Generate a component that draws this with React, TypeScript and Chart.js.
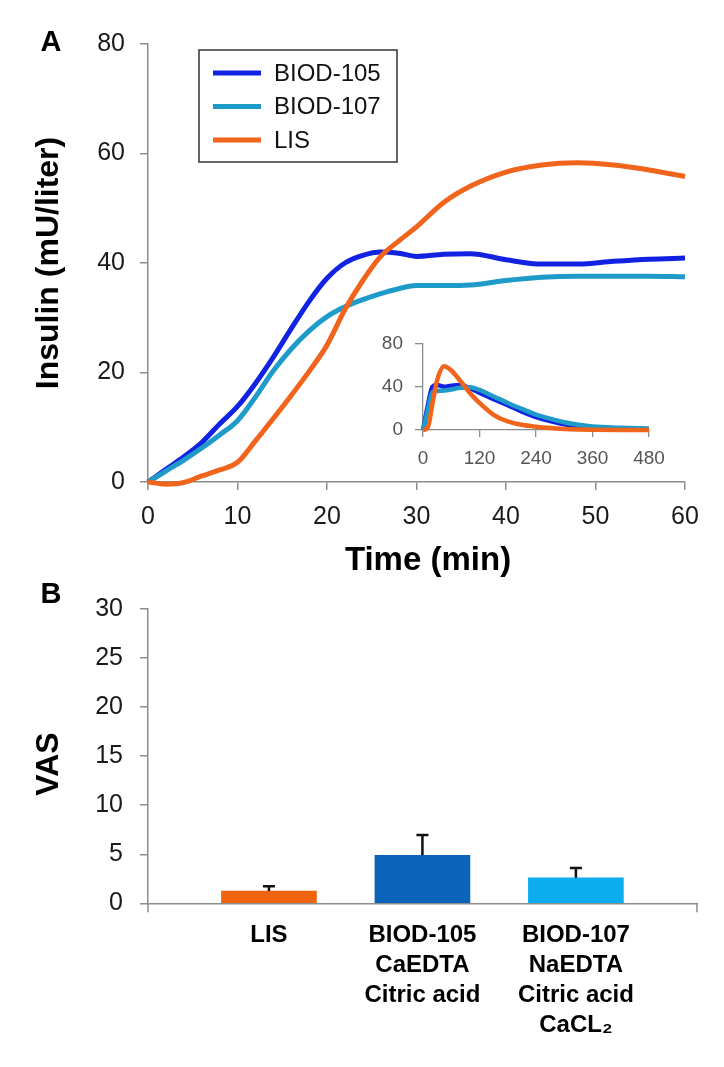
import React, { useEffect, useRef } from 'react';
import { Chart, registerables } from 'chart.js';

Chart.register(...registerables);

const FONT = '"Liberation Sans", Arial, Helvetica, sans-serif';
const AXIS_GRAY = '#8c8c8c';

// ---------- Panel A: main insulin curves (0-60 min) ----------
const timeMain = [0, 2, 4, 6, 8, 10, 12, 14, 16, 18, 20, 22, 24, 26, 28, 30, 33, 36, 40, 44, 48, 52, 56, 60];
const biod105Main = [0, 2.3, 4.6, 7.2, 10.6, 13.8, 18.0, 22.8, 28.0, 33.0, 37.2, 40.0, 41.4, 42.0, 41.8, 41.2, 41.6, 41.7, 40.6, 39.8, 39.8, 40.3, 40.7, 40.9];
const biod107Main = [0, 2.0, 4.0, 6.2, 8.6, 11.2, 15.5, 20.3, 24.3, 27.6, 30.2, 32.0, 33.3, 34.4, 35.3, 35.9, 35.9, 36.0, 36.8, 37.4, 37.6, 37.6, 37.6, 37.5];
const lisMain = [0, -0.4, -0.1, 1.1, 2.2, 3.6, 7.5, 11.6, 15.8, 20.2, 25.0, 31.5, 36.8, 41.2, 44.0, 46.6, 51.0, 54.0, 56.6, 57.9, 58.3, 57.9, 57.0, 55.8];

// ---------- Panel A inset: 0-480 min ----------
const timeInset = [0, 10, 20, 30, 45, 60, 80, 100, 120, 150, 180, 210, 240, 270, 300, 330, 360, 420, 480];
const biod105Inset = [0, 22, 40, 41.5, 40, 41, 41.5, 38.5, 34.5, 28.5, 23, 17, 12, 8.3, 5.2, 3.2, 1.9, 0.9, 0.5];
const biod107Inset = [0, 18, 35, 36, 36.5, 37.5, 39, 39.5, 37, 31, 25, 19.5, 14.3, 10.5, 7.2, 4.8, 3.2, 2, 1.4];
const lisInset = [0, 2, 24, 46, 59, 55, 45, 34, 25, 14, 8, 4.8, 3, 1.8, 1, 0.5, 0.2, 0, 0];

const seriesLabels = ['BIOD-105', 'BIOD-107', 'LIS'];
const seriesColors = ['#1222E2', '#1E9BC8', '#F0641C'];

// ---------- Panel B: VAS ----------
const vasCategories = [
  ['LIS'],
  ['BIOD-105', 'CaEDTA', 'Citric acid'],
  ['BIOD-107', 'NaEDTA', 'Citric acid', 'CaCL₂'],
];
const vasSlots = [1, 2, 3];
const vasMeans = [1.25, 4.9, 2.6];
const vasErrors = [0.5, 2.05, 1.0];
const vasColors = ['#F0640F', '#0B63BA', '#0BADEE'];

const toXY = (xs: number[], ys: number[]) => xs.map((x, i) => ({ x, y: ys[i] }));

// ---------- plugins ----------
const legendBoxPlugin = {
  id: 'legendBox',
  afterDatasetsDraw(chart: any, _args: any, opts: any) {
    if (!opts || !opts.display) return;
    const ctx = chart.ctx;
    const { x, y, width, height, rowHeight, firstRow, lineX, lineLen, textX } = opts;
    ctx.save();
    ctx.fillStyle = '#fff';
    ctx.fillRect(x, y, width, height);
    ctx.strokeStyle = opts.borderColor;
    ctx.lineWidth = opts.borderWidth;
    ctx.strokeRect(x, y, width, height);
    chart.data.datasets.forEach((ds: any, i: number) => {
      const cy = y + firstRow + i * rowHeight;
      ctx.strokeStyle = ds.borderColor;
      ctx.lineWidth = ds.borderWidth;
      ctx.beginPath();
      ctx.moveTo(x + lineX, cy);
      ctx.lineTo(x + lineX + lineLen, cy);
      ctx.stroke();
      ctx.fillStyle = opts.color;
      ctx.font = opts.font;
      ctx.textAlign = 'left';
      ctx.textBaseline = 'middle';
      ctx.fillText(ds.label, x + textX, cy + 1);
    });
    ctx.restore();
  },
};

// free-standing captions (panel letters, axis captions)
const captionsPlugin = {
  id: 'captions',
  afterDraw(chart: any, _args: any, opts: any) {
    if (!opts || !opts.items) return;
    const ctx = chart.ctx;
    opts.items.forEach((it: any) => {
      ctx.save();
      ctx.translate(it.x, it.y);
      ctx.rotate(it.rotation || 0);
      ctx.font = it.font;
      ctx.fillStyle = it.color || '#000';
      ctx.textAlign = 'center';
      ctx.textBaseline = 'middle';
      ctx.fillText(it.text, 0, 0);
      ctx.restore();
    });
  },
};

const errorBarsPlugin = {
  id: 'errorBars',
  afterDatasetsDraw(chart: any, _args: any, opts: any) {
    if (!opts || !opts.errors) return;
    const ctx = chart.ctx;
    const meta = chart.getDatasetMeta(0);
    const yScale = chart.scales.y;
    const data = chart.data.datasets[0].data;
    ctx.save();
    ctx.strokeStyle = opts.color;
    ctx.lineWidth = opts.lineWidth;
    meta.data.forEach((bar: any, i: number) => {
      const top = yScale.getPixelForValue(data[i].y + opts.errors[i]);
      ctx.beginPath();
      ctx.moveTo(bar.x, bar.y);
      ctx.lineTo(bar.x, top);
      ctx.moveTo(bar.x - opts.capWidth / 2, top);
      ctx.lineTo(bar.x + opts.capWidth / 2, top);
      ctx.stroke();
    });
    ctx.restore();
  },
};

const axisEndTicksPlugin = {
  id: 'axisEndTicks',
  afterDraw(chart: any, _args: any, opts: any) {
    if (!opts || !opts.length) return;
    const ctx = chart.ctx;
    const { left, right, bottom } = chart.chartArea;
    ctx.save();
    ctx.strokeStyle = opts.color;
    ctx.lineWidth = opts.lineWidth;
    [left, right].forEach((px) => {
      ctx.beginPath();
      ctx.moveTo(px, bottom);
      ctx.lineTo(px, bottom + opts.length);
      ctx.stroke();
    });
    ctx.restore();
  },
};

const lineDatasets = (xs: number[], sets: number[][], width: number) =>
  sets.map((ys, i) => ({
    label: seriesLabels[i],
    data: toXY(xs, ys),
    borderColor: seriesColors[i],
    backgroundColor: seriesColors[i],
    borderWidth: width,
    pointRadius: 0,
    cubicInterpolationMode: 'monotone' as const,
    fill: false,
    clip: 10,
    order: 2 - i,
  }));

export default function App() {
  const mainRef = useRef<HTMLCanvasElement>(null);
  const insetRef = useRef<HTMLCanvasElement>(null);
  const barRef = useRef<HTMLCanvasElement>(null);

  useEffect(() => {
    const charts: Chart[] = [];

    // Main chart (panel A)
    charts.push(
      new Chart(mainRef.current!, {
        type: 'line',
        data: { datasets: lineDatasets(timeMain, [biod105Main, biod107Main, lisMain], 5) as any },
        options: {
          animation: false,
          responsive: false,
          maintainAspectRatio: false,
          events: [],
          layout: { padding: { top: 44, right: 39, left: 0, bottom: 0 } },
          plugins: {
            legend: { display: false },
            tooltip: { enabled: false },
            legendBox: {
              display: true,
              x: 199, y: 50, width: 198, height: 112,
              firstRow: 23, rowHeight: 33.5, lineX: 14, lineLen: 48, textX: 75,
              borderColor: '#333', borderWidth: 1.5,
              color: '#111', font: `24px ${FONT}`,
            },
            captions: {
              items: [
                { text: 'A', x: 51, y: 43, font: `bold 29px ${FONT}` },
                { text: 'Time (min)', x: 428, y: 561, font: `bold 33px ${FONT}` },
              ],
            },
          } as any,
          scales: {
            x: {
              type: 'linear',
              min: 0,
              max: 60,
              ticks: { stepSize: 10, font: { family: FONT, size: 25 }, color: '#1a1a1a', padding: 12, maxRotation: 0 },
              grid: { drawOnChartArea: false, drawTicks: true, tickLength: 8, color: AXIS_GRAY, lineWidth: 1.5 },
              border: { display: true, color: AXIS_GRAY, width: 1.5 },
              afterFit: (s: any) => { s.height = 108; },
            },
            y: {
              min: 0,
              max: 80,
              ticks: { stepSize: 20, font: { family: FONT, size: 25 }, color: '#1a1a1a', padding: 15 },
              grid: { drawOnChartArea: false, drawTicks: true, tickLength: 8, color: AXIS_GRAY, lineWidth: 1.5 },
              border: { display: true, color: AXIS_GRAY, width: 1.5 },
              title: { display: true, text: 'Insulin (mU/liter)', font: { family: FONT, size: 32, weight: 'bold' }, color: '#000', padding: { top: 30, bottom: 0 } },
              afterFit: (s: any) => { s.width = 148; },
            },
          },
        },
        plugins: [legendBoxPlugin, captionsPlugin],
      })
    );

    // Inset chart
    charts.push(
      new Chart(insetRef.current!, {
        type: 'line',
        data: { datasets: lineDatasets(timeInset, [biod105Inset, biod107Inset, lisInset], 4.5) as any },
        options: {
          animation: false,
          responsive: false,
          maintainAspectRatio: false,
          events: [],
          layout: { padding: { top: 12, right: 31, left: 0, bottom: 0 } },
          plugins: { legend: { display: false }, tooltip: { enabled: false } },
          scales: {
            x: {
              type: 'linear',
              min: 0,
              max: 480,
              ticks: { stepSize: 120, font: { family: FONT, size: 19 }, color: '#555', padding: 10, maxRotation: 0 },
              grid: { drawOnChartArea: false, drawTicks: true, tickLength: 7, color: AXIS_GRAY, lineWidth: 1.3 },
              border: { display: true, color: AXIS_GRAY, width: 1.3 },
              afterFit: (s: any) => { s.height = 40; },
            },
            y: {
              min: 0,
              max: 80,
              ticks: { stepSize: 40, font: { family: FONT, size: 19 }, color: '#555', padding: 12 },
              grid: { drawOnChartArea: false, drawTicks: true, tickLength: 8, color: AXIS_GRAY, lineWidth: 1.3 },
              border: { display: true, color: AXIS_GRAY, width: 1.3 },
              afterFit: (s: any) => { s.width = 43; },
            },
          },
        },
      })
    );

    // Bar chart (panel B)
    charts.push(
      new Chart(barRef.current!, {
        type: 'bar',
        data: {
          datasets: [
            {
              label: 'VAS',
              data: toXY(vasSlots, vasMeans) as any,
              backgroundColor: vasColors,
              borderWidth: 0,
              barThickness: 95,
            },
          ],
        },
        options: {
          animation: false,
          responsive: false,
          maintainAspectRatio: false,
          events: [],
          layout: { padding: { top: 34, right: 27, left: 0, bottom: 0 } },
          plugins: {
            legend: { display: false },
            tooltip: { enabled: false },
            errorBars: { errors: vasErrors, color: '#111', lineWidth: 2.5, capWidth: 12 },
            captions: {
              items: [
                { text: 'B', x: 51, y: 20, font: `bold 29px ${FONT}` },
                { text: 'VAS', x: 49, y: 189, rotation: -Math.PI / 2, font: `bold 32px ${FONT}` },
              ],
            },
            axisEndTicks: { length: 9, color: AXIS_GRAY, lineWidth: 1.5 },
          } as any,
          scales: {
            x: {
              type: 'linear',
              offset: false,
              min: 0.212,
              max: 3.789,
              afterBuildTicks: (s: any) => { s.ticks = vasSlots.map((v) => ({ value: v })); },
              ticks: {
                autoSkip: false,
                maxRotation: 0,
                padding: 17,
                color: '#000',
                font: { family: FONT, size: 24, weight: 'bold', lineHeight: 1.25 },
                callback: (v: any) => {
                  const i = vasSlots.indexOf(Number(v));
                  return i >= 0 ? vasCategories[i] : '';
                },
              },
              grid: { display: false, drawTicks: false, offset: false },
              border: { display: true, color: AXIS_GRAY, width: 1.5 },
              afterFit: (s: any) => { s.height = 163.7; },
            },
            y: {
              min: 0,
              max: 30,
              ticks: { stepSize: 5, font: { family: FONT, size: 25 }, color: '#1a1a1a', padding: 17 },
              grid: { drawOnChartArea: false, drawTicks: true, tickLength: 8, color: AXIS_GRAY, lineWidth: 1.5 },
              border: { display: true, color: AXIS_GRAY, width: 1.5 },
              afterFit: (s: any) => { s.width = 148; },
            },
          },
        },
        plugins: [errorBarsPlugin, captionsPlugin, axisEndTicksPlugin],
      })
    );

    return () => charts.forEach((c) => c.destroy());
  }, []);

  return (
    <div style={{ position: 'absolute', left: 0, top: 0, width: 724, height: 1067, background: '#fff', overflow: 'hidden' }}>
      <canvas ref={mainRef} width={724} height={590} style={{ position: 'absolute', left: 0, top: 0, width: 724, height: 590 }} />
      <canvas ref={insetRef} width={300} height={150} style={{ position: 'absolute', left: 380, top: 320, width: 300, height: 150 }} />
      <canvas ref={barRef} width={724} height={492} style={{ position: 'absolute', left: 0, top: 575, width: 724, height: 492 }} />
    </div>
  );
}
